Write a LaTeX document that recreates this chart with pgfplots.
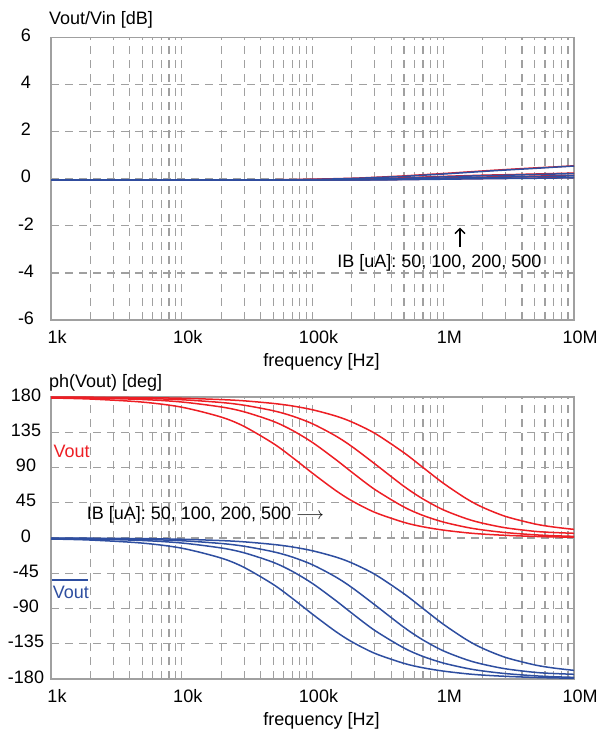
\documentclass[border=0pt]{standalone}
\usepackage{fontspec}
\setmainfont{Liberation Sans}
\usepackage{pgfplots}
\usepackage{pgfplotstable}
\pgfplotsset{compat=1.18}
\usetikzlibrary{arrows.meta}

\definecolor{vred}{RGB}{237,30,36}
\definecolor{vblue}{RGB}{46,78,160}
\definecolor{gridgray}{RGB}{160,160,160}

% gain [dB]: g = Vout (red), h = inverted Vout (blue), IB = 50,100,200,500 uA
\pgfplotstableread{
f     g1    g2    g3    g4    h1    h2    h3    h4
1e3   -0.05 -0.05 -0.05 -0.05 -0.05 -0.05 -0.05 -0.05
1e4   -0.05 -0.05 -0.05 -0.05 -0.05 -0.05 -0.05 -0.05
3e4   -0.05 -0.05 -0.05 -0.05 -0.05 -0.05 -0.05 -0.05
6e4   -0.05 -0.05 -0.05 -0.04 -0.05 -0.05 -0.05 -0.05
1e5   -0.05 -0.05 -0.04 -0.02 -0.05 -0.05 -0.05 -0.03
2e5   -0.05 -0.04 -0.02  0.02 -0.05 -0.05 -0.03  0.01
3e5   -0.04 -0.03  0.00  0.06 -0.05 -0.04 -0.01  0.05
5e5   -0.03 -0.01  0.04  0.12 -0.04 -0.02  0.02  0.10
7e5   -0.02  0.01  0.07  0.17 -0.03  0.00  0.05  0.15
1e6   -0.01  0.03  0.10  0.22 -0.02  0.02  0.08  0.20
2e6    0.01  0.07  0.15  0.33  0.00  0.05  0.13  0.31
3e6    0.02  0.09  0.17  0.39  0.01  0.07  0.15  0.37
5e6    0.03  0.11  0.20  0.46  0.02  0.09  0.18  0.44
7e6    0.04  0.13  0.22  0.50  0.03  0.11  0.20  0.49
1e7    0.05  0.14  0.24  0.55  0.04  0.12  0.22  0.54
}\gaintab

% phase [deg]
\pgfplotstableread{
f     p1    p2    p3    p4    q1     q2     q3     q4
1e3   178.7 179.4 179.6 179.8 -1.3   -0.6   -0.4   -0.2
2e3   177.4 178.7 179.3 179.7 -2.6   -1.3   -0.7   -0.3
5e3   173.5 176.8 178.2 179.2 -6.5   -3.2   -1.8   -0.8
1e4   167.0 173.6 176.5 178.4 -13.0  -6.4   -3.5   -1.6
2e4   154.4 167.3 173.0 176.7 -25.6  -12.7  -7.0   -3.3
3e4   142.4 161.1 169.5 175.1 -37.6  -18.9  -10.5  -4.9
5e4   120.8 149.0 162.5 171.8 -59.2  -31.0  -17.5  -8.2
7e4   103.0 137.5 155.7 168.6 -77.0  -42.5  -24.3  -11.4
1e5   82.7  121.9 145.8 163.7 -97.3  -58.1  -34.2  -16.3
1.5e5 60.8  100.4 130.4 155.8 -119.2 -79.6  -49.6  -24.2
2e5   47.5  84.0  116.8 148.1 -132.5 -96.0  -63.2  -31.9
3e5   32.7  61.9  94.6  133.6 -147.3 -118.1 -85.4  -46.4
5e5   20.0  39.6  66.0  108.9 -160.0 -140.4 -114.0 -71.1
7e5   14.3  28.8  49.8  90.0  -165.7 -151.2 -130.2 -90.0
1e6   10.1  20.4  36.0  70.0  -169.9 -159.6 -144.0 -110.0
1.5e6 6.7   13.7  24.7  50.3  -173.3 -166.3 -155.3 -129.7
2e6   5.0   10.3  18.9  39.2  -175.0 -169.7 -161.1 -140.8
3e6   3.4   6.9   13.0  27.5  -176.6 -173.1 -167.0 -152.5
5e6   2.0   4.1   8.5   18.0  -178.0 -175.9 -171.5 -162.0
7e6   1.4   2.9   7.0   14.0  -178.6 -177.1 -173.0 -166.0
1e7   1.0   2.1   6.0   11.0  -179.0 -177.9 -174.0 -169.0
}\phasetab

\newcommand{\lbl}{\fontsize{18}{20}\selectfont}

\begin{document}
\begin{tikzpicture}
\useasboundingbox (0,0) rectangle (601pt,733pt);

% magnitude
\begin{axis}[
  at={(51pt,413pt)}, anchor=south west,
  scale only axis, width=523pt, height=282.5pt,
  clip mode=individual,
  xmode=log, xmin=1e3, xmax=1e7,
  xtick={1e3,1e4,1e5,1e6,1e7},
  xticklabels={1k,10k,100k,1M,10M},
  ymin=-6, ymax=6,
  ytick={-6,-4,-2,0,2,4,6},
  yticklabels={-6,-4,-2,0,2,4,6},
  axis line style={draw=gridgray, line width=1.3pt},
  xmajorgrids=true, xminorgrids=true, ymajorgrids=true,
  major grid style={gridgray, line width=1.2pt, dash pattern=on 8pt off 6pt},
  minor grid style={gridgray, line width=1.2pt, dash pattern=on 8pt off 6pt},
  major tick length=0pt, minor tick length=0pt,
  tick label style={font=\lbl},
  xticklabel style={anchor=center, yshift=-17pt, xshift=6pt},
  yticklabel style={anchor=center, xshift=-25pt, yshift=2pt},
  xlabel={frequency [Hz]},
  xlabel style={font=\lbl, at={(axis description cs:0.5,0)}, anchor=center, yshift=-42pt, xshift=9pt},
]
\addplot[vred, line width=1.5pt, smooth] table[x=f, y=g1] {\gaintab};
\addplot[vred, line width=1.5pt, smooth] table[x=f, y=g2] {\gaintab};
\addplot[vred, line width=1.5pt, smooth] table[x=f, y=g3] {\gaintab};
\addplot[vred, line width=1.5pt, smooth] table[x=f, y=g4] {\gaintab};
\addplot[vblue, line width=1.5pt, smooth] table[x=f, y=h1] {\gaintab};
\addplot[vblue, line width=1.5pt, smooth] table[x=f, y=h2] {\gaintab};
\addplot[vblue, line width=1.5pt, smooth] table[x=f, y=h3] {\gaintab};
\addplot[vblue, line width=1.5pt, smooth] table[x=f, y=h4] {\gaintab};
\node[anchor=base west, inner sep=0pt, font=\lbl] at (rel axis cs:-0.004,1.046) {Vout/Vin [dB]};
\draw[line width=1.4pt, -{Straight Barb[length=5pt, width=10pt]}] (rel axis cs:0.782,0.258) -- (rel axis cs:0.782,0.327);
\node[anchor=base west, inner sep=0pt, font=\lbl] at (rel axis cs:0.547,0.1855) {IB [uA]: 50, 100, 200, 500};
\end{axis}

% phase
\begin{axis}[
  at={(51pt,54pt)}, anchor=south west,
  scale only axis, width=523pt, height=282pt,
  clip mode=individual,
  xmode=log, xmin=1e3, xmax=1e7,
  xtick={1e3,1e4,1e5,1e6,1e7},
  xticklabels={1k,10k,100k,1M,10M},
  ymin=-180, ymax=180,
  ytick={-180,-135,-90,-45,0,45,90,135,180},
  yticklabels={-180,-135,-90,-45,0,45,90,135,180},
  axis line style={draw=gridgray, line width=1.3pt},
  xmajorgrids=true, xminorgrids=true, ymajorgrids=true,
  major grid style={gridgray, line width=1.2pt, dash pattern=on 8pt off 6pt},
  minor grid style={gridgray, line width=1.2pt, dash pattern=on 8pt off 6pt},
  major tick length=0pt, minor tick length=0pt,
  tick label style={font=\lbl},
  xticklabel style={anchor=center, yshift=-17pt, xshift=6pt},
  yticklabel style={anchor=center, xshift=-25pt, yshift=2pt},
  xlabel={frequency [Hz]},
  xlabel style={font=\lbl, at={(axis description cs:0.5,0)}, anchor=center, yshift=-42pt, xshift=9pt},
]
\addplot[vred, line width=1.5pt, smooth] table[x=f, y=p1] {\phasetab};
\addplot[vred, line width=1.5pt, smooth] table[x=f, y=p2] {\phasetab};
\addplot[vred, line width=1.5pt, smooth] table[x=f, y=p3] {\phasetab};
\addplot[vred, line width=1.5pt, smooth] table[x=f, y=p4] {\phasetab};
\addplot[vblue, line width=1.5pt, smooth] table[x=f, y=q1] {\phasetab};
\addplot[vblue, line width=1.5pt, smooth] table[x=f, y=q2] {\phasetab};
\addplot[vblue, line width=1.5pt, smooth] table[x=f, y=q3] {\phasetab};
\addplot[vblue, line width=1.5pt, smooth] table[x=f, y=q4] {\phasetab};
\node[anchor=base west, inner sep=0pt, font=\lbl] at (rel axis cs:-0.004,1.035) {ph(Vout) [deg]};
\node[anchor=base west, inner sep=0pt, font=\lbl, text=vred] at (rel axis cs:0.0044,0.7837) {Vout};
\node[anchor=base west, inner sep=0pt, font=\lbl, text=vblue] at (rel axis cs:0.0013,0.287)
  {\makebox[0pt][l]{\rule[17.3pt]{36.6pt}{1.5pt}}\hspace{1pt}Vout};
\node[anchor=base west, inner sep=0pt, font=\lbl] at (rel axis cs:0.0683,0.566)
  {IB [uA]: 50, 100, 200, 500 $\longrightarrow$};
\end{axis}
\end{tikzpicture}
\end{document}
